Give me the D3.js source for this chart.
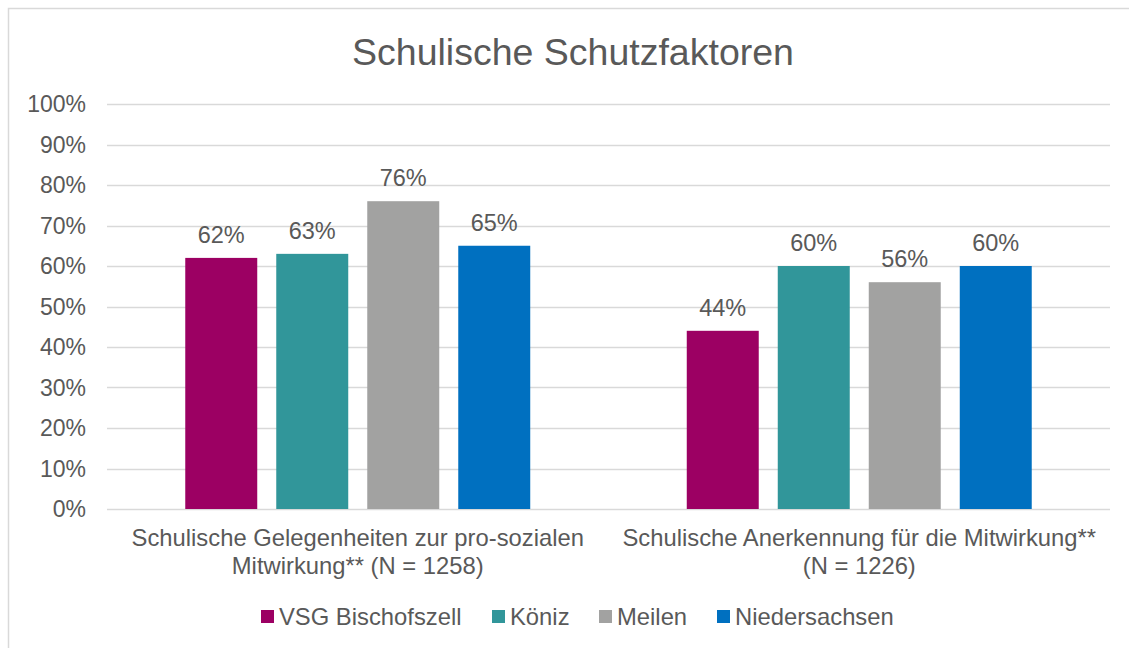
<!DOCTYPE html>
<html>
<head>
<meta charset="utf-8">
<script src="https://cdn.jsdelivr.net/npm/d3@7"></script>
<style>
    body { margin: 0; background: #fff; }
    text { font-family: "Liberation Sans", Arial, sans-serif; fill: #595959; }
</style>
</head>
<body>
<script>
(function(){
    //chart data
    var categories = ["Gelegenheiten", "Anerkennung"];
    var categoryLabels = [
        ["Schulische Gelegenheiten zur pro-sozialen", "Mitwirkung** (N = 1258)"],
        ["Schulische Anerkennung für die Mitwirkung**", "(N = 1226)"]
    ];
    var seriesNames = ["VSG Bischofszell", "Köniz", "Meilen", "Niedersachsen"];
    var seriesColors = ["#9C0063", "#31969A", "#A2A2A1", "#0070C0"];
    var valuesBischofszell = [62, 44];
    var valuesKoeniz = [63, 60];
    var valuesMeilen = [76, 56];
    var valuesNiedersachsen = [65, 60];
    var seriesValues = [valuesBischofszell, valuesKoeniz, valuesMeilen, valuesNiedersachsen];
    var yTicks = [0, 10, 20, 30, 40, 50, 60, 70, 80, 90, 100];

    var width = 1129, height = 648;
    var plot = {left: 107, right: 1110, top: 104, bottom: 509};

    var svg = d3.select("body").append("svg")
        .attr("width", width)
        .attr("height", height);

    //outer frame
    svg.append("rect")
        .attr("x", 8.5).attr("y", 8.5)
        .attr("width", width + 10).attr("height", height + 10)
        .attr("fill", "#fff")
        .attr("stroke", "#d9d9d9")
        .attr("stroke-width", 1.5);

    //title
    svg.append("text")
        .attr("x", 573).attr("y", 65)
        .attr("text-anchor", "middle")
        .style("font-size", "37.5px")
        .text("Schulische Schutzfaktoren");

    var yScale = d3.scaleLinear()
        .domain([0, 100])
        .range([plot.bottom, plot.top]);

    var xScale = d3.scaleBand()
        .domain(categories)
        .range([plot.left, plot.right]);

    var xInner = d3.scaleBand()
        .domain(seriesNames)
        .range([0, xScale.bandwidth()])
        .paddingInner(0.209)
        .paddingOuter(0.86);

    //gridlines
    svg.append("g").selectAll("line")
        .data(yTicks)
        .enter().append("line")
        .attr("x1", plot.left).attr("x2", plot.right)
        .attr("y1", d => Math.round(yScale(d)) + 0.5)
        .attr("y2", d => Math.round(yScale(d)) + 0.5)
        .attr("stroke", "#d9d9d9")
        .attr("stroke-width", 1.5);

    //y axis labels
    svg.append("g").selectAll("text")
        .data(yTicks)
        .enter().append("text")
        .attr("x", 86)
        .attr("y", d => yScale(d))
        .attr("dy", "0.35em")
        .attr("text-anchor", "end")
        .style("font-size", "23px")
        .text(d => d + "%");

    //bars
    var groups = svg.selectAll(".series")
        .data(seriesNames)
        .enter().append("g")
        .attr("class", "series");

    groups.each(function(name, si){
        var g = d3.select(this);
        var vals = seriesValues[si];
        g.selectAll("rect")
            .data(vals)
            .enter().append("rect")
            .attr("x", (d, i) => xScale(categories[i]) + xInner(name))
            .attr("width", xInner.bandwidth())
            .attr("y", d => yScale(d))
            .attr("height", d => plot.bottom - yScale(d))
            .attr("fill", seriesColors[si]);
        g.selectAll("text")
            .data(vals)
            .enter().append("text")
            .attr("x", (d, i) => xScale(categories[i]) + xInner(name) + xInner.bandwidth() / 2)
            .attr("y", d => yScale(d) - 15)
            .attr("text-anchor", "middle")
            .style("font-size", "23.5px")
            .text(d => d + "%");
    });

    //category labels
    categories.forEach(function(c, i){
        var t = svg.append("text")
            .attr("text-anchor", "middle")
            .style("font-size", "23.8px");
        categoryLabels[i].forEach(function(line, li){
            t.append("tspan")
                .attr("x", xScale(c) + xScale.bandwidth() / 2)
                .attr("y", 546 + li * 28)
                .text(line);
        });
    });

    //legend
    var legendX = [261, 492, 599, 717];
    var legend = svg.append("g").selectAll("g")
        .data(seriesNames)
        .enter().append("g")
        .attr("transform", (d, i) => "translate(" + legendX[i] + ",610)");
    legend.append("rect")
        .attr("width", 13).attr("height", 13)
        .attr("fill", (d, i) => seriesColors[i]);
    legend.append("text")
        .attr("x", 18).attr("y", 7)
        .attr("dy", "0.35em")
        .style("font-size", "23.8px")
        .text(d => d);
})();
</script>
</body>
</html>
